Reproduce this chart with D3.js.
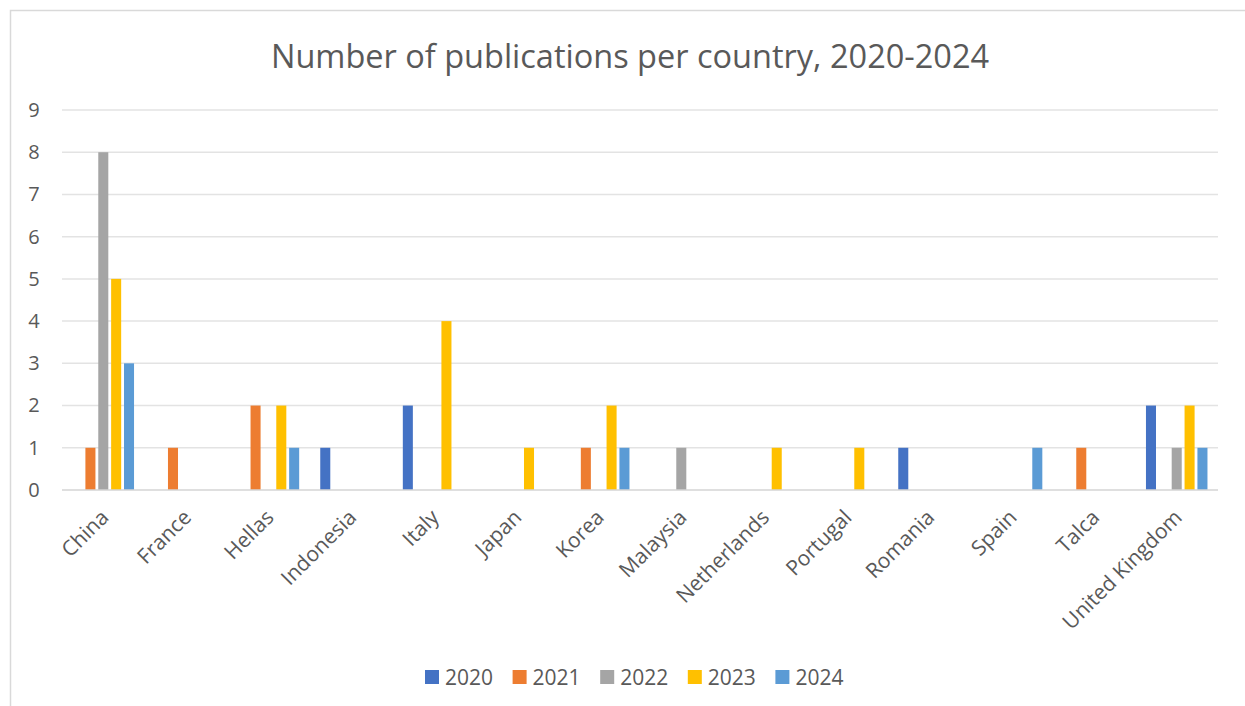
<!DOCTYPE html>
<html>
<head>
<meta charset="utf-8">
<script src="https://cdn.jsdelivr.net/npm/d3@7"></script>
<style>
  html, body { margin: 0; padding: 0; background: #fff; }
  svg { display: block; font-family: "Open Sans", "Noto Sans", sans-serif; }
</style>
</head>
<body>
<svg id="chart" width="1245" height="706"></svg>
<script>
const countries = ["China", "France", "Hellas", "Indonesia", "Italy", "Japan", "Korea", "Malaysia", "Netherlands", "Portugal", "Romania", "Spain", "Talca", "United Kingdom"];
const years = ["2020", "2021", "2022", "2023", "2024"];
const v2020 = [0, 0, 0, 1, 2, 0, 0, 0, 0, 0, 1, 0, 0, 2];
const v2021 = [1, 1, 2, 0, 0, 0, 1, 0, 0, 0, 0, 0, 1, 0];
const v2022 = [8, 0, 0, 0, 0, 0, 0, 1, 0, 0, 0, 0, 0, 1];
const v2023 = [5, 0, 2, 0, 4, 1, 2, 0, 1, 1, 0, 0, 0, 2];
const v2024 = [3, 0, 1, 0, 0, 0, 1, 0, 0, 0, 0, 1, 0, 1];
const yTicks = [0, 1, 2, 3, 4, 5, 6, 7, 8, 9];
const colors = ["#4472C4", "#ED7D31", "#A5A5A5", "#FFC000", "#5B9BD5"];
const title = "Number of publications per country, 2020-2024";

const seriesValues = [v2020, v2021, v2022, v2023, v2024];

const svg = d3.select("#chart");
const W = 1245, H = 706;
const margin = { left: 62, right: 1218, top: 110, bottom: 490 };

// chart border
svg.append("path")
  .attr("d", `M10.5,${H} L10.5,10.5 L${W},10.5`)
  .attr("fill", "none").attr("stroke", "#d9d9d9").attr("stroke-width", 1.5);

const x0 = d3.scaleBand().domain(countries).range([margin.left, margin.right]).paddingInner(0).paddingOuter(0);
const y = d3.scaleLinear().domain([0, 9]).range([margin.bottom, margin.top]);
const x1 = d3.scaleBand().domain(years).range([-30.75, 30.75]).paddingInner(0.22).paddingOuter(0);

// gridlines
svg.append("g").selectAll("line").data(yTicks.filter(d => d > 0)).join("line")
  .attr("x1", margin.left).attr("x2", margin.right)
  .attr("y1", d => y(d)).attr("y2", d => y(d))
  .attr("stroke", "#e3e3e3").attr("stroke-width", 1.5);

// bars
const groups = svg.append("g").selectAll("g").data(countries).join("g")
  .attr("transform", c => `translate(${x0(c) + x0.bandwidth() / 2},0)`);
groups.selectAll("rect")
  .data((c, i) => years.map((yr, k) => ({ yr, k, v: seriesValues[k][i] })).filter(d => d.v > 0))
  .join("rect")
  .attr("x", d => x1(d.yr))
  .attr("width", x1.bandwidth())
  .attr("y", d => y(d.v))
  .attr("height", d => y(0) - y(d.v))
  .attr("fill", d => colors[d.k]);

// baseline
svg.append("line")
  .attr("x1", margin.left).attr("x2", margin.right)
  .attr("y1", y(0)).attr("y2", y(0))
  .attr("stroke", "#d4d4d4").attr("stroke-width", 1.5);

// y axis labels
const yAxis = d3.axisLeft(y).tickValues(yTicks).tickSize(0).tickPadding(0).tickFormat(d3.format("d"));
const yg = svg.append("g").attr("transform", `translate(34,0)`).call(yAxis);
yg.select(".domain").remove();
yg.selectAll("text").attr("text-anchor", "middle").attr("fill", "#595959")
  .style("font-size", "20px").style("font-family", "'Open Sans', sans-serif");

// x axis labels
const xAxis = d3.axisBottom(x0).tickSize(0).tickPadding(0);
const xg = svg.append("g").attr("transform", `translate(0,${y(0)})`).call(xAxis);
xg.select(".domain").remove();
xg.selectAll("text")
  .attr("text-anchor", "end")
  .attr("dy", null).attr("y", null)
  .attr("transform", "translate(1,23) rotate(-45)")
  .attr("fill", "#595959")
  .style("font-size", "21px").style("font-family", "'Open Sans', sans-serif");
xg.selectAll("text").attr("dominant-baseline", "central");

// title
svg.append("text").attr("x", 630).attr("y", 68).attr("text-anchor", "middle")
  .attr("fill", "#595959").style("font-size", "32.5px").text(title);

// legend
const legend = svg.append("g").attr("transform", "translate(425,677)");
const li = legend.selectAll("g").data(years).join("g")
  .attr("transform", (d, i) => `translate(${i * 87.6},0)`);
li.append("rect").attr("x", 0).attr("y", -7).attr("width", 14).attr("height", 14)
  .attr("fill", (d, i) => colors[i]);
li.append("text").attr("x", 20).attr("y", 0).attr("dominant-baseline", "central")
  .attr("fill", "#595959").style("font-size", "21px").text(d => d);
</script>
</body>
</html>
